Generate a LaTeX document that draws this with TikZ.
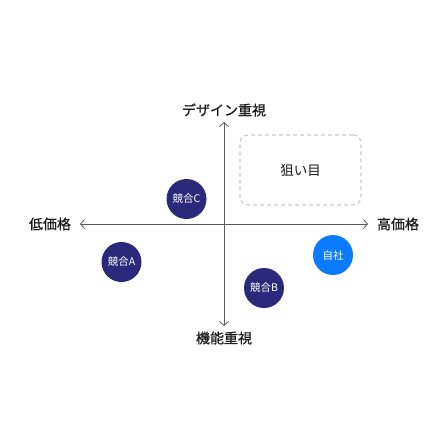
\documentclass[tikz,border=0pt]{standalone}
\usepackage{fontspec}
\setmainfont{Noto Sans CJK JP}
\newfontfamily\medfont[FakeBold=0.6]{Noto Sans CJK JP}
\usetikzlibrary{arrows.meta}
\definecolor{axisgray}{HTML}{5A5A5A}
\definecolor{boxgray}{HTML}{CCCCCC}
\definecolor{rival}{HTML}{2B2A7A}
\definecolor{own}{HTML}{0A7BFF}
\definecolor{txt}{HTML}{1A1A1A}
\tikzset{
  axisline/.style={draw=axisgray, line width=0.8pt, -{Straight Barb[length=4pt,width=9pt]}},
  axislabel/.style={text=txt, font=\medfont\fontsize{14}{14}\selectfont, inner sep=0pt},
  dot/.style={circle, minimum size=40pt, inner sep=0pt, text=white, font=\fontsize{10.5}{10.5}\selectfont},
  rivaldot/.style={dot, fill=rival},
  owndot/.style={dot, fill=own},
  target/.style={draw=boxgray, line width=1.1pt, dash pattern=on 4pt off 3pt, rounded corners=8pt,
    minimum width=121pt, minimum height=70pt, inner sep=0pt, text=txt, font=\fontsize{13.5}{13.5}\selectfont}
}
\begin{document}
\begin{tikzpicture}[x=1pt,y=-1pt]
\useasboundingbox (0,0) rectangle (448,448);
\fill[white] (0,0) rectangle (448,448);
\coordinate (c) at (224,224);
\coordinate (top) at (224,122);
\coordinate (bot) at (224,326);
\coordinate (left) at (80,224);
\coordinate (right) at (368,224);
\draw[axisline] (c) -- (top);
\draw[axisline] (c) -- (bot);
\draw[axisline] (c) -- (left);
\draw[axisline] (c) -- (right);
\node[axislabel] (design) at (224,110) {デザイン重視};
\node[axislabel] (func) at (224,338) {機能重視};
\node[axislabel] (low) at (50,224) {低価格};
\node[axislabel] (high) at (398,224) {高価格};
\node[target] (aim) at (300.5,170) {狙い目};
\node[rivaldot] (cC) at (186.5,199) {競合C};
\node[rivaldot] (cA) at (121.5,262) {競合A};
\node[rivaldot] (cB) at (264,288) {競合B};
\node[owndot] (self) at (333,255) {自社};
\end{tikzpicture}
\end{document}
